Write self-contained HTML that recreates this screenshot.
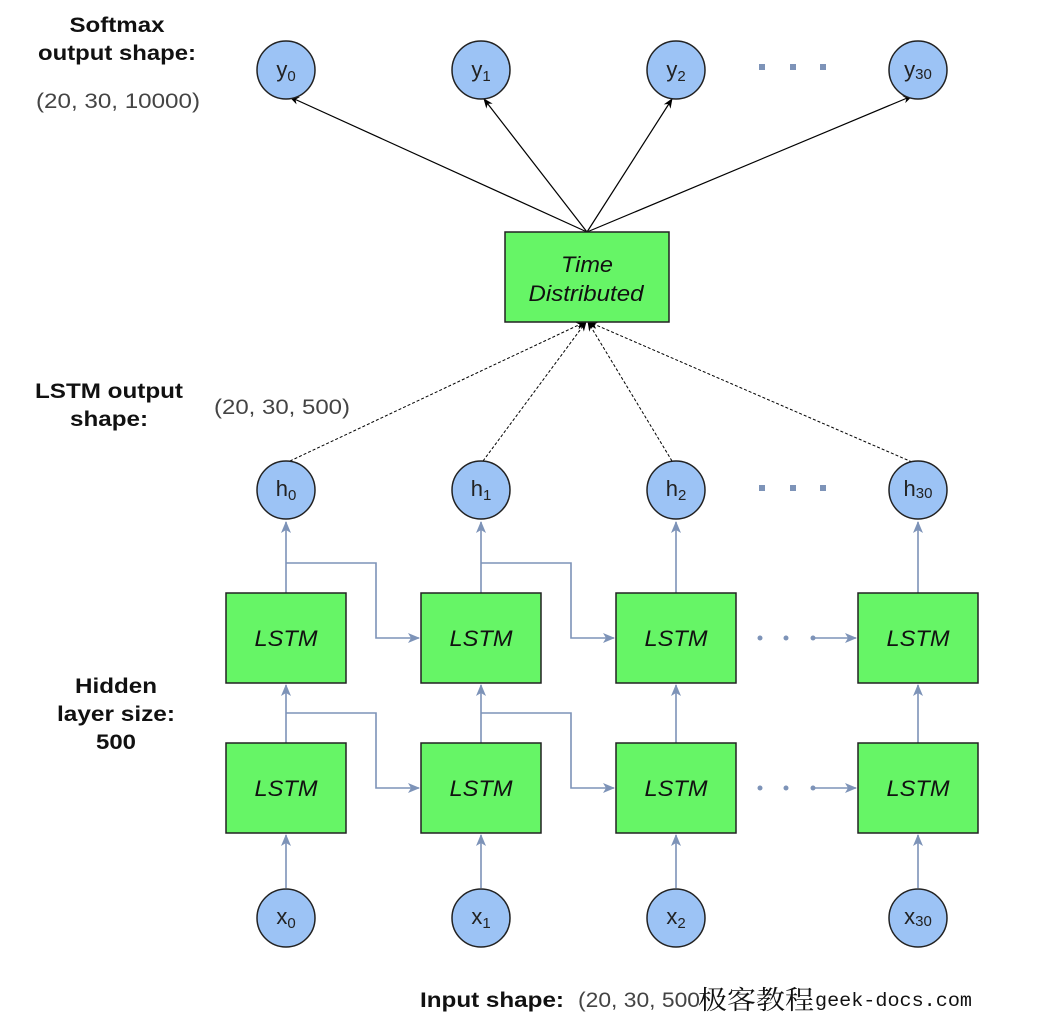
<!DOCTYPE html>
<html><head><meta charset="utf-8"><style>
body{margin:0;background:#fff}
svg{display:block}
</style></head><body>
<svg width="1052" height="1030" viewBox="0 0 1052 1030" xmlns="http://www.w3.org/2000/svg" font-family="'Liberation Sans','Noto Sans CJK SC',sans-serif">
<defs>
<marker id="ab" markerWidth="10" markerHeight="10" refX="9" refY="5" orient="auto" markerUnits="userSpaceOnUse"><path d="M0,1 L10,5 L0,9 L3,5 z" fill="#000"/></marker>
<marker id="abl" markerWidth="12" markerHeight="12" refX="11" refY="6" orient="auto" markerUnits="userSpaceOnUse"><path d="M0,1 L12,6 L0,11 L3,6 z" fill="#7d93b8"/></marker>
</defs>
<g font-weight="bold" font-size="21" fill="#111" text-anchor="middle" lengthAdjust="spacingAndGlyphs">
<text x="117" y="32" textLength="95" lengthAdjust="spacingAndGlyphs">Softmax</text>
<text x="117" y="60" textLength="158" lengthAdjust="spacingAndGlyphs">output shape:</text>
<text x="109" y="398" textLength="148" lengthAdjust="spacingAndGlyphs">LSTM output</text>
<text x="109" y="426" textLength="78" lengthAdjust="spacingAndGlyphs">shape:</text>
<text x="116" y="693" textLength="82" lengthAdjust="spacingAndGlyphs">Hidden</text>
<text x="116" y="721" textLength="118" lengthAdjust="spacingAndGlyphs">layer size:</text>
<text x="116" y="749" textLength="40" lengthAdjust="spacingAndGlyphs">500</text>
</g>
<g font-size="21" fill="#444">
<text x="36" y="108" textLength="164" lengthAdjust="spacingAndGlyphs">(20, 30, 10000)</text>
<text x="214" y="414" textLength="136" lengthAdjust="spacingAndGlyphs">(20, 30, 500)</text>
</g>
<text x="420" y="1007" font-size="21" font-weight="bold" fill="#111" textLength="144" lengthAdjust="spacingAndGlyphs">Input shape:</text>
<text x="578" y="1007" font-size="21" fill="#444" textLength="122" lengthAdjust="spacingAndGlyphs">(20, 30, 500</text>
<text x="698" y="1009" font-size="26" fill="#111" style="font-family:'Noto Serif CJK SC',serif" textLength="116" lengthAdjust="spacingAndGlyphs">极客教程</text>
<text x="815" y="1006" font-size="19" fill="#111" style="font-family:'Liberation Mono',monospace" textLength="157" lengthAdjust="spacingAndGlyphs">geek-docs.com</text>

<g stroke="#000" stroke-width="1.2" marker-end="url(#ab)">
<line x1="587" y1="232" x2="290" y2="97"/>
<line x1="587" y1="232" x2="484" y2="99"/>
<line x1="587" y1="232" x2="672" y2="99"/>
<line x1="587" y1="232" x2="912" y2="96"/>
</g>
<g stroke="#000" stroke-width="1" stroke-dasharray="3,2" marker-end="url(#ab)">
<line x1="290" y1="461" x2="585" y2="322"/>
<line x1="483" y1="461" x2="586" y2="322"/>
<line x1="672" y1="461" x2="588" y2="322"/>
<line x1="912" y1="462" x2="589" y2="322"/>
</g>

<g stroke="#7d93b8" stroke-width="1.6" fill="none">
<line x1="286" y1="593" x2="286" y2="522" marker-end="url(#abl)"/>
<line x1="481" y1="593" x2="481" y2="522" marker-end="url(#abl)"/>
<line x1="676" y1="593" x2="676" y2="522" marker-end="url(#abl)"/>
<line x1="918" y1="593" x2="918" y2="522" marker-end="url(#abl)"/>
<line x1="286" y1="743" x2="286" y2="685" marker-end="url(#abl)"/>
<line x1="481" y1="743" x2="481" y2="685" marker-end="url(#abl)"/>
<line x1="676" y1="743" x2="676" y2="685" marker-end="url(#abl)"/>
<line x1="918" y1="743" x2="918" y2="685" marker-end="url(#abl)"/>
<line x1="286" y1="888" x2="286" y2="835" marker-end="url(#abl)"/>
<line x1="481" y1="888" x2="481" y2="835" marker-end="url(#abl)"/>
<line x1="676" y1="888" x2="676" y2="835" marker-end="url(#abl)"/>
<line x1="918" y1="888" x2="918" y2="835" marker-end="url(#abl)"/>
<polyline points="286,563 376,563 376,638 419,638" marker-end="url(#abl)"/>
<polyline points="481,563 571,563 571,638 614,638" marker-end="url(#abl)"/>
<polyline points="286,713 376,713 376,788 419,788" marker-end="url(#abl)"/>
<polyline points="481,713 571,713 571,788 614,788" marker-end="url(#abl)"/>
<line x1="815" y1="638" x2="856" y2="638" marker-end="url(#abl)"/>
<line x1="815" y1="788" x2="856" y2="788" marker-end="url(#abl)"/>
</g>
<g fill="#7d93b8">
<circle cx="760" cy="638" r="2.5"/><circle cx="786" cy="638" r="2.5"/><circle cx="813" cy="638" r="2.5"/>
<circle cx="760" cy="788" r="2.5"/><circle cx="786" cy="788" r="2.5"/><circle cx="813" cy="788" r="2.5"/>
<rect x="759" y="64" width="6" height="6"/><rect x="790" y="64" width="6" height="6"/><rect x="820" y="64" width="6" height="6"/>
<rect x="759" y="485" width="6" height="6"/><rect x="790" y="485" width="6" height="6"/><rect x="820" y="485" width="6" height="6"/>
</g>

<g fill="#66f566" stroke="#222" stroke-width="1.5">
<rect x="505" y="232" width="164" height="90"/>
<rect x="226" y="593" width="120" height="90"/><rect x="421" y="593" width="120" height="90"/>
<rect x="616" y="593" width="120" height="90"/><rect x="858" y="593" width="120" height="90"/>
<rect x="226" y="743" width="120" height="90"/><rect x="421" y="743" width="120" height="90"/>
<rect x="616" y="743" width="120" height="90"/><rect x="858" y="743" width="120" height="90"/>
</g>
<g font-size="22" font-style="italic" fill="#111" text-anchor="middle">
<text x="587" y="272" textLength="52" lengthAdjust="spacingAndGlyphs">Time</text>
<text x="586" y="301" textLength="115" lengthAdjust="spacingAndGlyphs">Distributed</text>
<text x="286" y="646" textLength="63" lengthAdjust="spacingAndGlyphs">LSTM</text><text x="481" y="646" textLength="63" lengthAdjust="spacingAndGlyphs">LSTM</text><text x="676" y="646" textLength="63" lengthAdjust="spacingAndGlyphs">LSTM</text><text x="918" y="646" textLength="63" lengthAdjust="spacingAndGlyphs">LSTM</text>
<text x="286" y="796" textLength="63" lengthAdjust="spacingAndGlyphs">LSTM</text><text x="481" y="796" textLength="63" lengthAdjust="spacingAndGlyphs">LSTM</text><text x="676" y="796" textLength="63" lengthAdjust="spacingAndGlyphs">LSTM</text><text x="918" y="796" textLength="63" lengthAdjust="spacingAndGlyphs">LSTM</text>
</g>

<g fill="#9cc3f5" stroke="#222" stroke-width="1.5">
<circle cx="286" cy="70" r="29"/><circle cx="481" cy="70" r="29"/><circle cx="676" cy="70" r="29"/><circle cx="918" cy="70" r="29"/>
<circle cx="286" cy="490" r="29"/><circle cx="481" cy="490" r="29"/><circle cx="676" cy="490" r="29"/><circle cx="918" cy="490" r="29"/>
<circle cx="286" cy="918" r="29"/><circle cx="481" cy="918" r="29"/><circle cx="676" cy="918" r="29"/><circle cx="918" cy="918" r="29"/>
</g>
<g font-size="22" fill="#222" text-anchor="middle">
<text x="286" y="77">y<tspan font-size="15" dy="4">0</tspan></text>
<text x="481" y="77">y<tspan font-size="15" dy="4">1</tspan></text>
<text x="676" y="77">y<tspan font-size="15" dy="4">2</tspan></text>
<text x="918" y="77">y<tspan font-size="15" dy="2">30</tspan></text>
<text x="286" y="496">h<tspan font-size="15" dy="4">0</tspan></text>
<text x="481" y="496">h<tspan font-size="15" dy="4">1</tspan></text>
<text x="676" y="496">h<tspan font-size="15" dy="4">2</tspan></text>
<text x="918" y="496">h<tspan font-size="15" dy="2">30</tspan></text>
<text x="286" y="924">x<tspan font-size="15" dy="4">0</tspan></text>
<text x="481" y="924">x<tspan font-size="15" dy="4">1</tspan></text>
<text x="676" y="924">x<tspan font-size="15" dy="4">2</tspan></text>
<text x="918" y="924">x<tspan font-size="15" dy="2">30</tspan></text>
</g>
</svg>
</body></html>
